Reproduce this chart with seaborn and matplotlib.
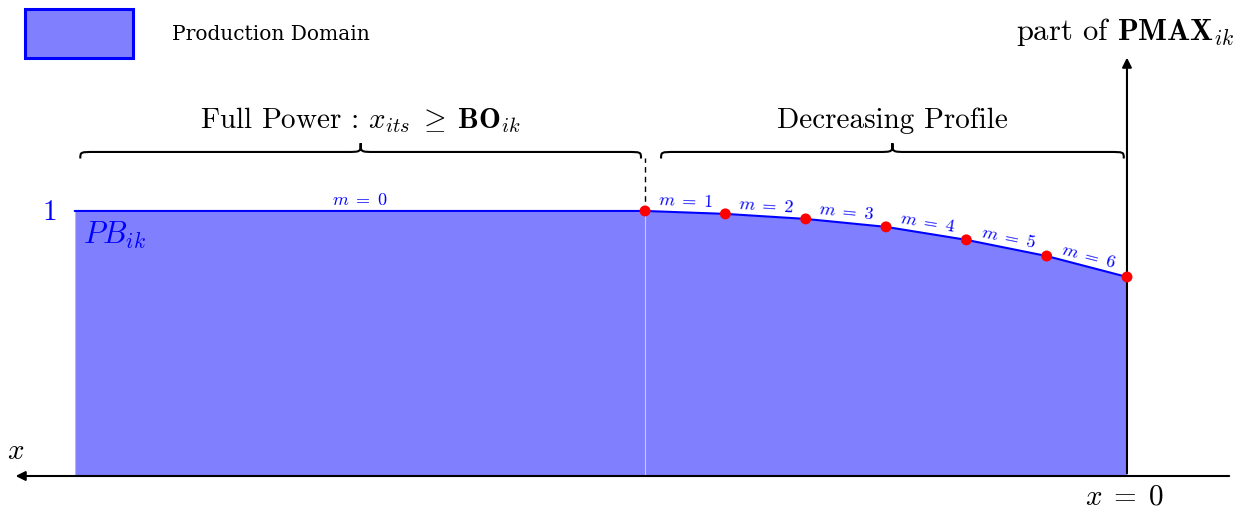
import numpy as np
import pandas as pd
import seaborn as sns
import matplotlib.pyplot as plt
from matplotlib.path import Path
from matplotlib.patches import PathPatch, Rectangle

# profile data : distance x to the end (x = 0 on the right), share of PMAX
breakpoints_x = [6, 5, 4, 3, 2, 1, 0]
power_share = [1.0, 0.989, 0.970, 0.940, 0.891, 0.830, 0.751]
segment_m = [1, 2, 3, 4, 5, 6]
full_power_start = 13.1
pb_level = 1.0

sns.set_theme(style="white")
plt.rcParams["font.family"] = ["cmr10", "DejaVu Serif"]
plt.rcParams["mathtext.fontset"] = "cm"
plt.rcParams["axes.unicode_minus"] = False
plt.rcParams["text.color"] = "black"

BLUE = "#0000ff"
FILL = "#8080ff"
BIG = 21

fig = plt.figure(figsize=(12.51, 5.09), dpi=100)
ax = fig.add_axes([0, 0, 1, 1])
ax.set_xlim(14.03, -1.544)
ax.set_ylim(-0.1245, 1.796)
ax.axis("off")

prof = pd.DataFrame({"x": [full_power_start] + breakpoints_x,
                     "share": [pb_level] + power_share})

# production domain
ax.fill_between([full_power_start, breakpoints_x[0]], 0, pb_level, color=FILL, lw=0)
ax.fill_between(breakpoints_x, 0, power_share, color=FILL, lw=0)
ax.plot([breakpoints_x[0]] * 2, [0, pb_level], color="#c8c8ff", lw=0.8)
ax.plot([full_power_start] * 2, [0, pb_level], color="#bbbbbb", lw=0.8)

sns.lineplot(data=prof, x="x", y="share", sort=False, color=BLUE, lw=1.5, ax=ax)
sns.scatterplot(x=breakpoints_x, y=power_share, color="red", s=62, edgecolor="none", zorder=5, ax=ax)

# dashed separator
ax.plot([breakpoints_x[0]] * 2, [pb_level, 1.2], color="black", lw=1, ls=(0, (4, 3)))

# axes arrows
ax.annotate("", xy=(0, 1.589), xytext=(0, 0),
            arrowprops=dict(arrowstyle="-|>", color="black", lw=1.5, mutation_scale=14))
ax.annotate("", xy=(13.87, 0), xytext=(-1.307, 0),
            arrowprops=dict(arrowstyle="-|>", color="black", lw=1.5, mutation_scale=14))

ax.text(13.84, 0.04, "$x$", fontsize=BIG, ha="center", va="bottom")
ax.text(0.025, -0.079, r"$x\;=\;0$", fontsize=BIG, ha="center", va="center")
ax.text(0.025, 1.675, r"part of $\mathbf{PMAX}_{ik}$", fontsize=22, ha="center", va="center")
ax.text(13.41, 0.992, "1", fontsize=BIG, color=BLUE, ha="center", va="center")
ax.text(13.0, 0.906, "$PB_{ik}$", fontsize=22, color=BLUE, ha="left", va="center")

# segment labels
ax.annotate(r"$m\;=\;0$", xy=((full_power_start + breakpoints_x[0]) / 2, pb_level),
            xytext=(0, 3), textcoords="offset pixels", ha="center", va="bottom",
            fontsize=13, color=BLUE)
fig.canvas.draw()
for i, m in enumerate(segment_m):
    p0 = ax.transData.transform((breakpoints_x[i], power_share[i]))
    p1 = ax.transData.transform((breakpoints_x[i + 1], power_share[i + 1]))
    ang = np.degrees(np.arctan2(p1[1] - p0[1], p1[0] - p0[0]))
    mid = ((breakpoints_x[i] + breakpoints_x[i + 1]) / 2, (power_share[i] + power_share[i + 1]) / 2)
    ax.annotate(rf"$m\;=\;{m}$", xy=mid, xytext=(0, 3), textcoords="offset pixels",
                ha="center", va="bottom", rotation=ang, rotation_mode="anchor",
                fontsize=13, color=BLUE)


def brace(x_left, x_right, y, amp=0.055, curl=0.18):
    d = curl if x_right > x_left else -curl
    xm = (x_left + x_right) / 2
    yb, yt = y - amp * 0.45, y + amp * 0.6
    verts = [(x_left, yb), (x_left, y), (x_left, y), (x_left + d, y),
             (xm - d, y), (xm, y), (xm, y), (xm, yt),
             (xm, y), (xm, y), (xm + d, y),
             (x_right - d, y), (x_right, y), (x_right, y), (x_right, yb)]
    codes = [Path.MOVETO, Path.CURVE4, Path.CURVE4, Path.CURVE4,
             Path.LINETO, Path.CURVE4, Path.CURVE4, Path.CURVE4,
             Path.CURVE4, Path.CURVE4, Path.CURVE4,
             Path.LINETO, Path.CURVE4, Path.CURVE4, Path.CURVE4]
    ax.add_patch(PathPatch(Path(verts, codes), fc="none", ec="black", lw=1.5))
    return xm


y_br = (476 - 152) / 265
xm1 = brace(full_power_start - 0.07, breakpoints_x[0] + 0.05, y_br)
xm2 = brace(breakpoints_x[0] - 0.2, breakpoints_x[-1] + 0.04, y_br)
ax.text(xm1, 1.342, r"Full Power : $x_{its}\;\geq\;\mathbf{BO}_{ik}$", fontsize=BIG, ha="center", va="center")
ax.text(xm2, 1.342, "Decreasing Profile", fontsize=BIG, ha="center", va="center")

# legend
ax.add_patch(Rectangle((0.02, 0.886), 0.086, 0.096, transform=fig.transFigure,
                       fc=FILL, ec=BLUE, lw=2.2, clip_on=False))
fig.text(0.1375, 0.933, "Production Domain", fontsize=14.5, family="DejaVu Serif",
         ha="left", va="center")

plt.savefig("out.png", dpi=100)
